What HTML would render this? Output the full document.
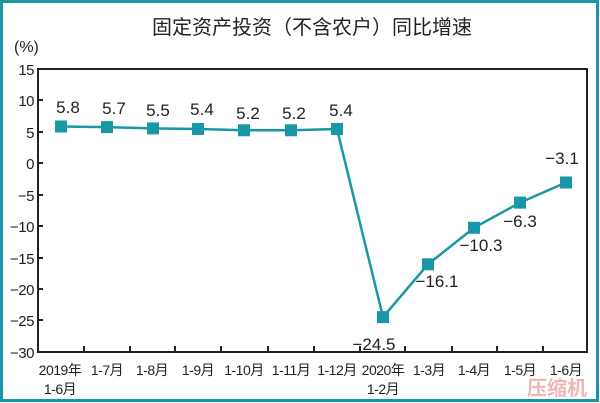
<!DOCTYPE html>
<html><head><meta charset="utf-8"><style>
html,body{margin:0;padding:0;background:#fff}
svg{display:block}
text{font-family:"Liberation Sans","Noto Sans CJK SC",sans-serif;fill:#222}
</style></head><body>
<svg width="600" height="403" viewBox="0 0 600 403" xmlns="http://www.w3.org/2000/svg">
<rect x="1.5" y="1.5" width="596" height="399" fill="#fff" stroke="#1a97a6" stroke-width="3"/>
<text x="312" y="34" font-size="20" text-anchor="middle">固定资产投资（不含农户）同比增速</text>
<text x="14" y="52" font-size="16">(%)</text>
<rect x="38" y="69" width="549" height="283" fill="none" stroke="#222" stroke-width="2"/>
<g font-size="15" text-anchor="end" letter-spacing="-0.5">
<text x="34" y="75">15</text><text x="34" y="106">10</text><text x="34" y="138">5</text>
<text x="34" y="169">0</text><text x="34" y="201">−5</text><text x="34" y="232">−10</text>
<text x="34" y="264">−15</text><text x="34" y="295">−20</text><text x="34" y="326">−25</text>
<text x="34" y="358">−30</text>
</g>
<g stroke="#222" stroke-width="2">
<line x1="38" y1="100" x2="43" y2="100"/><line x1="38" y1="132" x2="43" y2="132"/>
<line x1="38" y1="163" x2="43" y2="163"/><line x1="38" y1="195" x2="43" y2="195"/>
<line x1="38" y1="226" x2="43" y2="226"/><line x1="38" y1="258" x2="43" y2="258"/>
<line x1="38" y1="289" x2="43" y2="289"/><line x1="38" y1="320" x2="43" y2="320"/>
<line x1="84" y1="352" x2="84" y2="346"/><line x1="130" y1="352" x2="130" y2="346"/>
<line x1="175" y1="352" x2="175" y2="346"/><line x1="221" y1="352" x2="221" y2="346"/>
<line x1="268" y1="352" x2="268" y2="346"/><line x1="314" y1="352" x2="314" y2="346"/>
<line x1="360" y1="352" x2="360" y2="346"/><line x1="405" y1="352" x2="405" y2="346"/>
<line x1="452" y1="352" x2="452" y2="346"/><line x1="497" y1="352" x2="497" y2="346"/>
<line x1="543" y1="352" x2="543" y2="346"/>
</g>
<g font-size="14" text-anchor="middle" letter-spacing="-0.5">
<text x="60" y="375">2019年</text><text x="60" y="394">1-6月</text>
<text x="107" y="375">1-7月</text><text x="152" y="375">1-8月</text>
<text x="198" y="375">1-9月</text><text x="244" y="375">1-10月</text>
<text x="291" y="375">1-11月</text><text x="337" y="375">1-12月</text>
<text x="383" y="375">2020年</text><text x="383" y="394">1-2月</text>
<text x="429" y="375">1-3月</text><text x="474" y="375">1-4月</text>
<text x="520" y="375">1-5月</text><text x="566" y="375">1-6月</text>
</g>
<polyline fill="none" stroke="#1a97a6" stroke-width="2.5" points="61,126.5 107,127.1 153,128.4 198,129 244,130.3 291,130.3 337,129 383,317.1 428,264.3 474,227.8 520,202.6 566,182.5"/>
<g fill="#1a97a6">
<rect x="55" y="120.5" width="12" height="12"/><rect x="101" y="121.1" width="12" height="12"/>
<rect x="147" y="122.4" width="12" height="12"/><rect x="192" y="123" width="12" height="12"/>
<rect x="238" y="124.3" width="12" height="12"/><rect x="285" y="124.3" width="12" height="12"/>
<rect x="331" y="123" width="12" height="12"/><rect x="377" y="311.1" width="12" height="12"/>
<rect x="422" y="258.3" width="12" height="12"/><rect x="468" y="221.8" width="12" height="12"/>
<rect x="514" y="196.6" width="12" height="12"/><rect x="560" y="176.5" width="12" height="12"/>
</g>
<g font-size="17" text-anchor="middle">
<text x="68" y="113">5.8</text><text x="114" y="114">5.7</text><text x="158" y="116">5.5</text>
<text x="202" y="115">5.4</text><text x="248" y="119">5.2</text><text x="294" y="119">5.2</text>
<text x="341" y="116">5.4</text><text x="374" y="350">−24.5</text>
<text x="437" y="287">−16.1</text><text x="481" y="251">−10.3</text>
<text x="520" y="227">−6.3</text><text x="562" y="164">−3.1</text>
</g>
<text x="527" y="395" font-size="20" style="fill:#f0b5b5" font-weight="bold">压缩机</text>
</svg>
</body></html>
